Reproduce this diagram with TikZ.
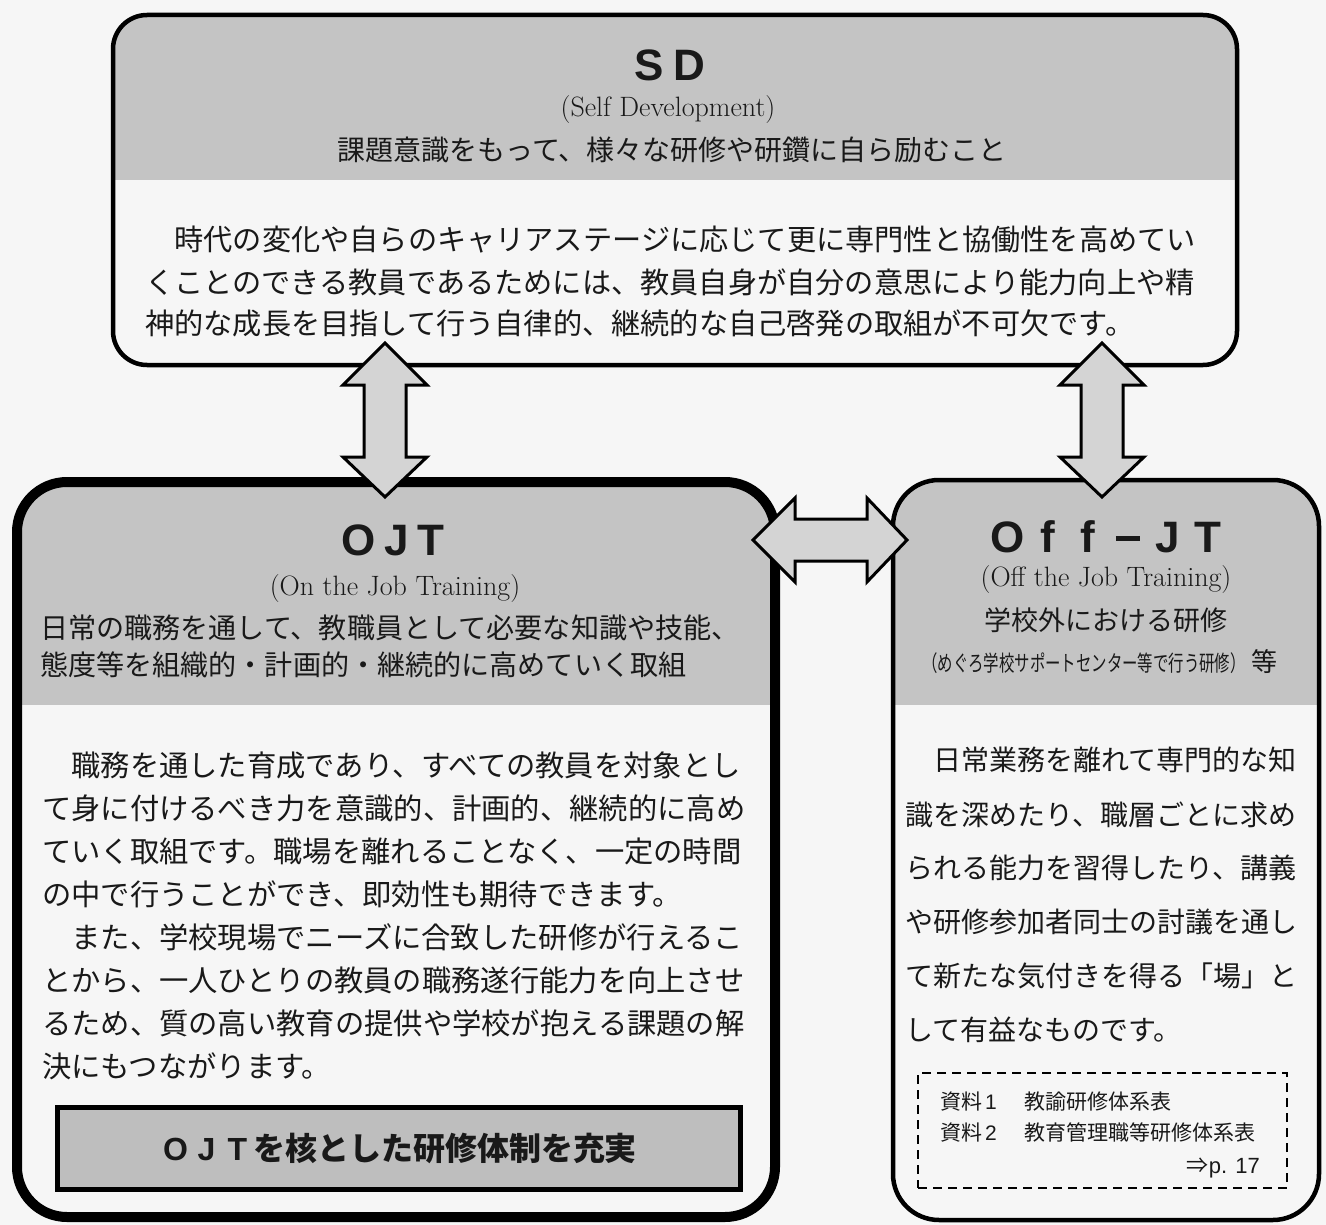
\documentclass[tikz,border=0pt]{standalone}
\usepackage{fontspec}
\usepackage{graphicx}
\newfontfamily\jp{Noto Sans CJK JP}
\newfontfamily\lsans{Liberation Sans}
\newcommand\fsz[1]{\fontsize{#1pt}{#1pt}\selectfont}
\definecolor{bgc}{RGB}{246,246,246}
\definecolor{hdr}{RGB}{196,196,196}
\definecolor{arw}{RGB}{212,212,212}
\definecolor{corec}{RGB}{190,190,190}
\definecolor{ink}{RGB}{25,25,25}
\tikzset{
  boxbase/.style={draw=black, fill=bgc, inner sep=0pt, rounded corners=#1},
  boxbase/.default=40pt,
  hdrfill/.style={path picture={\fill[hdr, sharp corners] (path picture bounding box.north west) rectangle ([yshift=-#1]path picture bounding box.north east);}},
  fatarrow/.style={draw=black, fill=arw, line width=3pt, line join=miter},
  jl/.style={anchor=west, inner sep=0pt, text=ink, font=\jp\fsz{#1}},
  jc/.style={anchor=center, inner sep=0pt, text=ink, font=\jp\fsz{#1}},
  latc/.style={anchor=center, inner sep=0pt, text=ink, font=\fsz{#1}},
  ttl/.style={anchor=center, inner sep=0pt, text=ink, font=\lsans\bfseries\fsz{#1}},
  vdarrow/.pic={\draw[fatarrow] (0,-77) -- ++(42,42) -- ++(-21,0) -- ++(0,72) -- ++(21,0)
     -- ++(-42,40) -- ++(-42,-40) -- ++(21,0) -- ++(0,-72) -- ++(-21,0) -- cycle;}
}
\begin{document}
\begin{tikzpicture}[x=1pt,y=-1pt]
\useasboundingbox (0,0) rectangle (1326,1225);
\fill[bgc] (0,0) rectangle (1326,1225);

% boxes
\node[boxbase=34pt, line width=4.5pt, hdrfill=165pt, minimum width=1124pt, minimum height=350pt] (sd) at (675,190) {};
\node[boxbase=50pt, line width=10pt, hdrfill=223pt, minimum width=758pt, minimum height=735pt] (ojt) at (396,849.5) {};
\node[boxbase=46pt, line width=4.5pt, hdrfill=225pt, minimum width=426pt, minimum height=740pt] (off) at (1106,850) {};

% inner boxes
\node[draw=black, fill=corec, line width=5pt, inner sep=0pt, minimum width=683pt, minimum height=82pt] (core) at (398.5,1148) {};
\node[draw=black, line width=1.8pt, dash pattern=on 9pt off 6pt, inner sep=0pt, minimum width=369pt, minimum height=115pt] (refs) at (1102.5,1130.5) {};

% double arrows
\coordinate (a1) at (385,420);
\coordinate (a2) at (1102,420);
\coordinate (a3) at (830,540);
\pic at (a1) {vdarrow};
\pic at (a2) {vdarrow};
\pic[rotate=90] at (a3) {vdarrow};

% SD texts
\node[ttl=44] (sdt) at (670,65) {S\hspace{10pt}D};
\node[latc=28] (sde) at (668,110) {(Self Development)};
\node[jc=28] (sdj) at (672,150) {課題意識をもって、様々な研修や研鑽に自ら励むこと};
\node[jl=29.2] (sd1) at (145,240) {　時代の変化や自らのキャリアステージに応じて更に専門性と協働性を高めてい};
\node[jl=29.2] (sd2) at (145,282) {くことのできる教員であるためには、教員自身が自分の意思により能力向上や精};
\node[jl=29.2] (sd3) at (145,323) {神的な成長を目指して行う自律的、継続的な自己啓発の取組が不可欠です。};

% OJT texts
\node[ttl=44] (ojtt) at (393,540) {O\hspace{9pt}J\hspace{9pt}T};
\node[latc=28] (ojte) at (395,589) {(On the Job Training)};
\node[jl=28.1] (ojh1) at (40,628) {日常の職務を通して、教職員として必要な知識や技能、};
\node[jl=28.1] (ojh2) at (40,665) {態度等を組織的・計画的・継続的に高めていく取組};
\node[jl=29.3] (oj1) at (42,765) {　職務を通した育成であり、すべての教員を対象とし};
\node[jl=29.3] (oj2) at (42,808) {て身に付けるべき力を意識的、計画的、継続的に高め};
\node[jl=29.3] (oj3) at (42,851) {ていく取組です。職場を離れることなく、一定の時間};
\node[jl=29.3] (oj4) at (42,894) {の中で行うことができ、即効性も期待できます。};
\node[jl=29.3] (oj5) at (42,937) {　また、学校現場でニーズに合致した研修が行えるこ};
\node[jl=29.3] (oj6) at (42,980) {とから、一人ひとりの教員の職務遂行能力を向上させ};
\node[jl=29.3] (oj7) at (42,1023) {るため、質の高い教育の提供や学校が抱える課題の解};
\node[jl=29.3] (oj8) at (42,1066) {決にもつながります。};
\node[anchor=center, inner sep=0pt, text=ink] (coret) at (core.center)
  {{\lsans\bfseries\fsz{32}\makebox[31pt]{O}\makebox[31pt]{J}\makebox[31pt]{T}}{\jp\bfseries\fsz{32}を核とした研修体制を充実}};

% Off-JT texts
\node[ttl=44] (offt) at (1108,537)
  {\makebox[40pt]{O}\makebox[40pt]{f}\makebox[40pt]{f}\makebox[40pt]{\rule[0.27em]{0.55em}{0.1em}}\makebox[40pt]{J}\makebox[40pt]{T}};
\node[latc=28] (offe) at (1106,580) {(Off the Job Training)};
\node[jc=27] (offj) at (1106,620) {学校外における研修};
\node[anchor=center, inner sep=0pt, text=ink] (offs) at (1100,662)
  {\jp\scalebox{0.7}[1]{\fsz{22}（めぐろ学校サポートセンター等で行う研修）}\hspace{6pt}\fsz{26}等};
\node[jl=28] (of1) at (905,760) {　日常業務を離れて専門的な知};
\node[jl=28] (of2) at (905,815) {識を深めたり、職層ごとに求め};
\node[jl=28] (of3) at (905,868) {られる能力を習得したり、講義};
\node[jl=28] (of4) at (905,922) {や研修参加者同士の討議を通し};
\node[jl=28] (of5) at (905,976) {て新たな気付きを得る「場」と};
\node[jl=28] (of6) at (905,1030) {して有益なものです。};

% reference list
\node[jl=21] (r1) at (940,1102) {資料\hspace{3pt}{\lsans 1}\hspace{28pt}教諭研修体系表};
\node[jl=21] (r2) at (940,1133) {資料\hspace{3pt}{\lsans 2}\hspace{28pt}教育管理職等研修体系表};
\node[anchor=east, inner sep=0pt, text=ink, font=\jp\fsz{22}] (r3) at (1260,1168) {⇒{\lsans p. 17}};
\end{tikzpicture}
\end{document}
